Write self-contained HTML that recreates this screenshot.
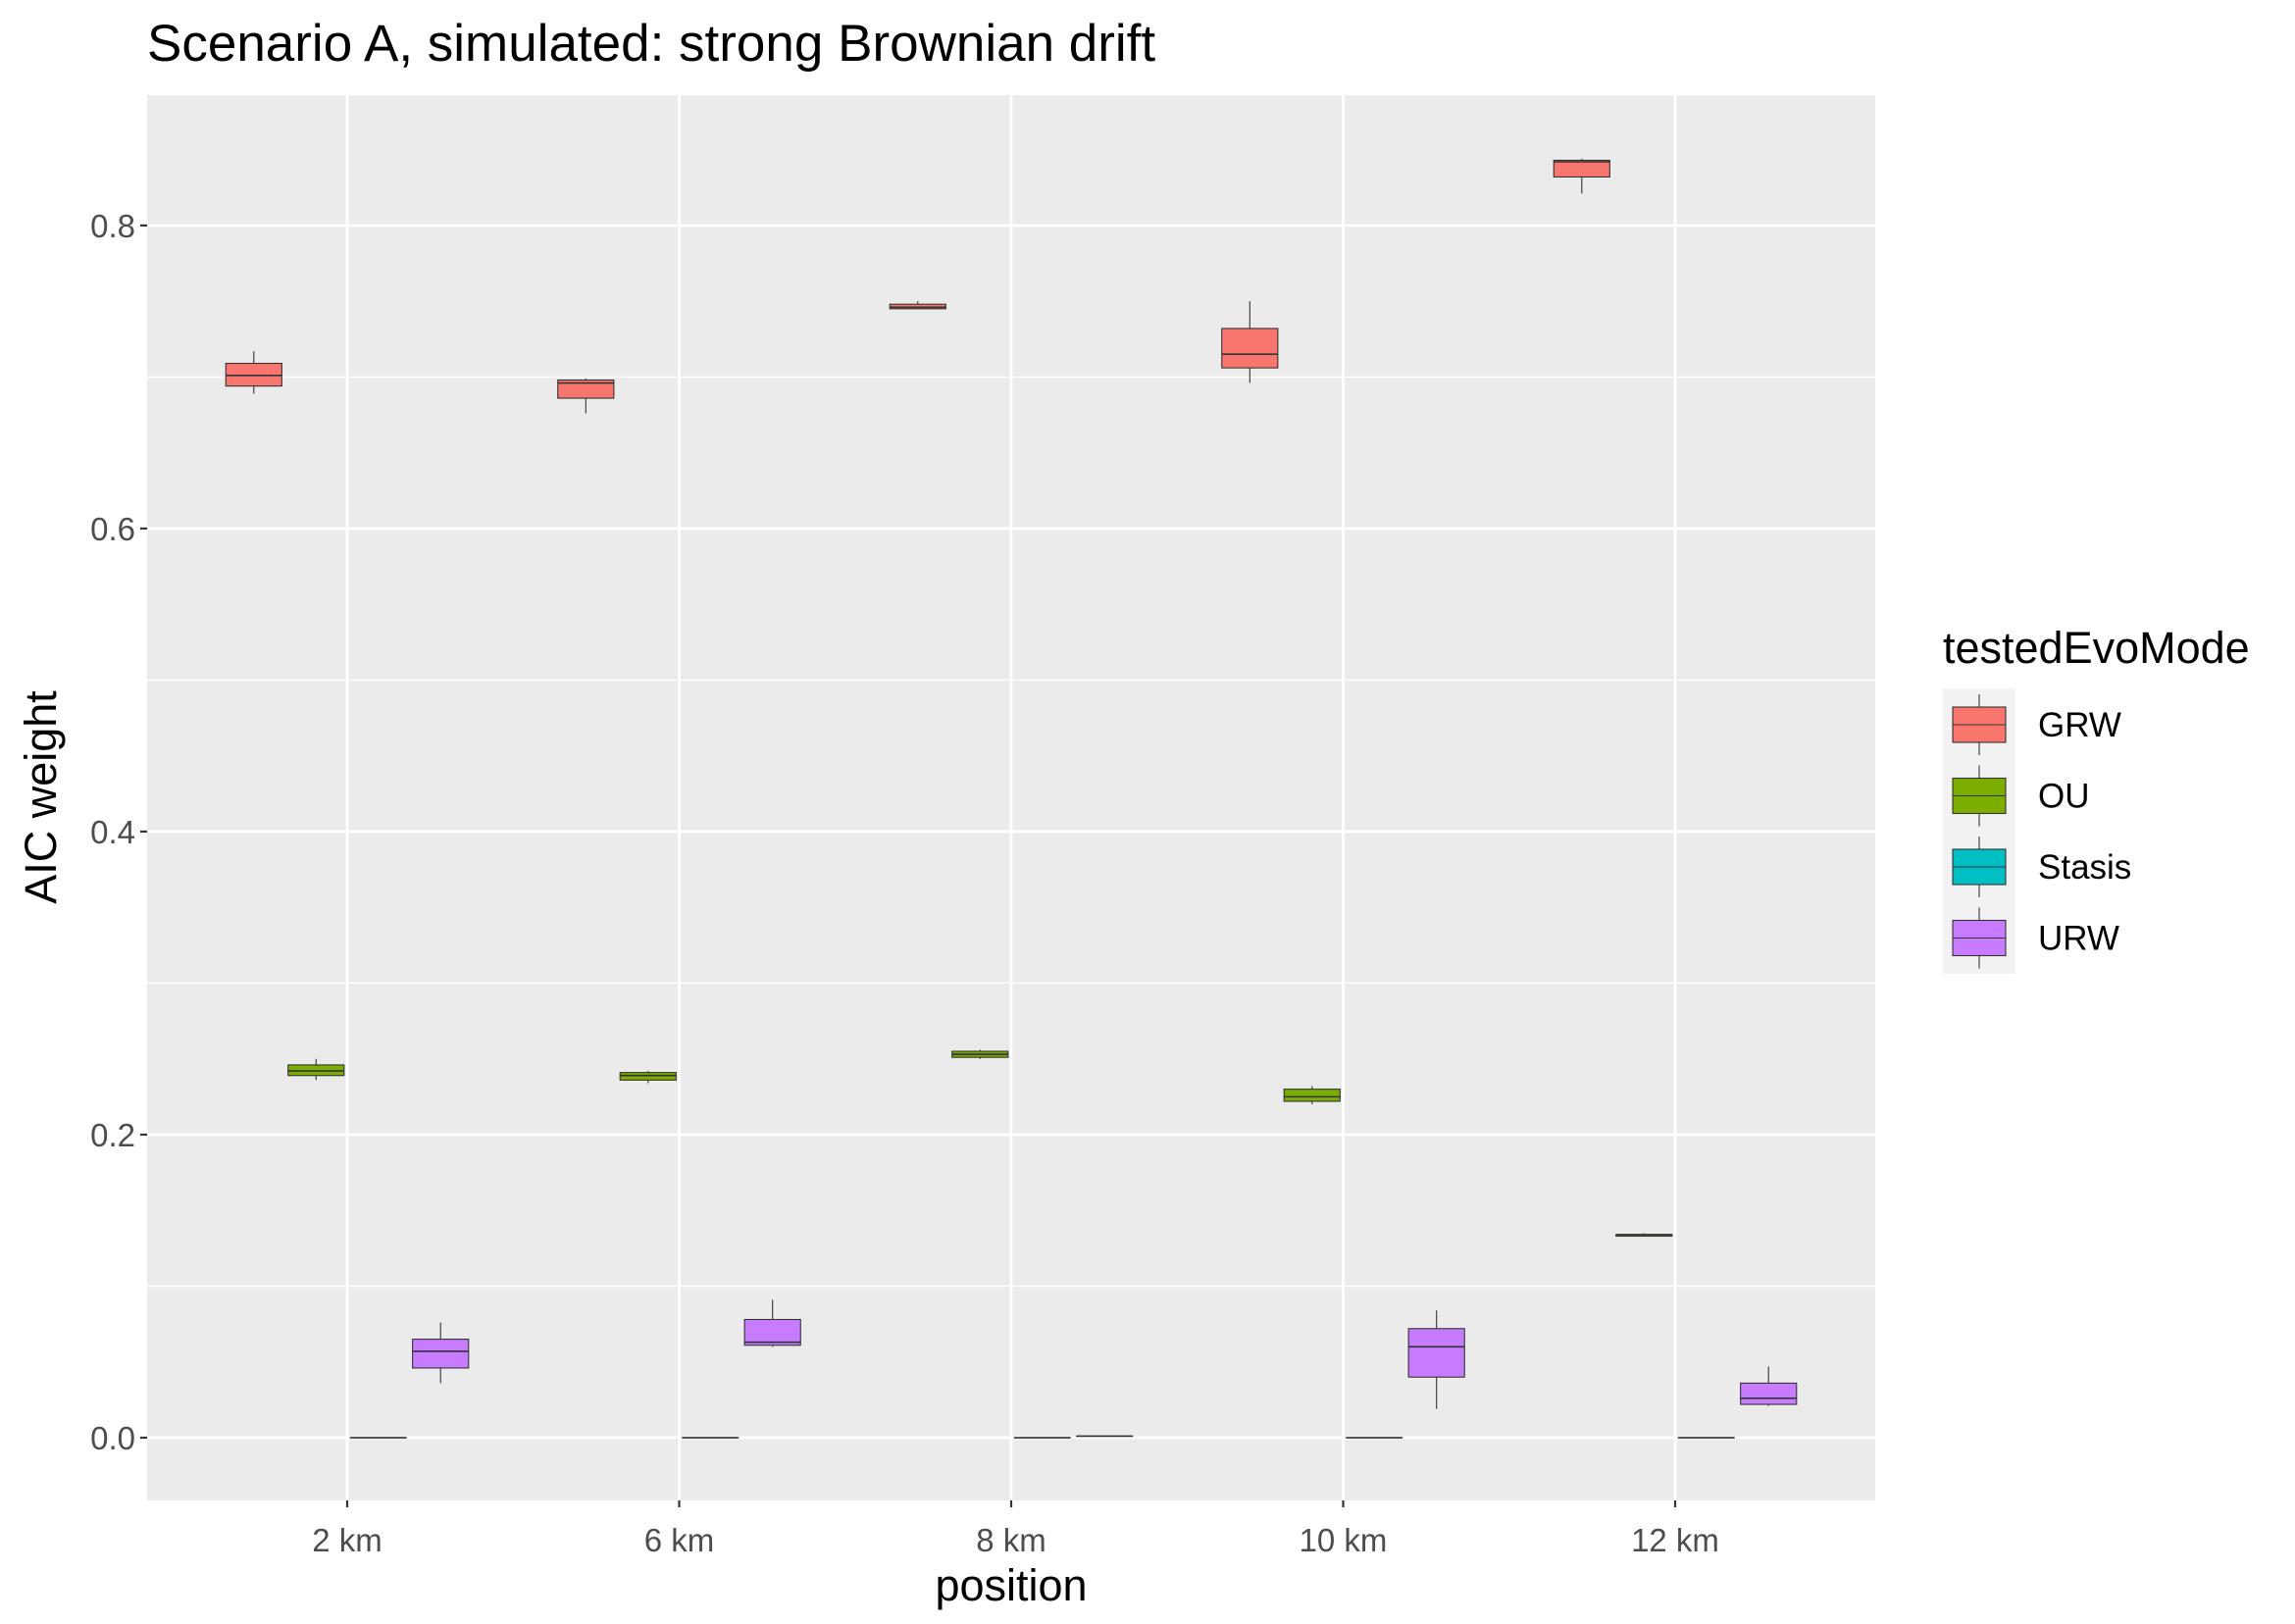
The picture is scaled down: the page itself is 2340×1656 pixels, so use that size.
<!DOCTYPE html>
<html><head><meta charset="utf-8"><style>
body{margin:0;background:#fff}
svg{display:block;font-family:"Liberation Sans",Arial,sans-serif}
</style></head><body>
<svg id="chart" width="2340" height="1656" viewBox="0 0 2340 1656" xmlns="http://www.w3.org/2000/svg">
<rect width="2340" height="1656" fill="#fff"/>
<text x="150" y="62" font-size="53" fill="#000">Scenario A, simulated: strong Brownian drift</text>
<rect x="150" y="97" width="1762" height="1433" fill="#EBEBEB"/>
<g id="grid"></g>
<g id="boxes"></g>
<g id="axes"></g>
<text x="1031" y="1632" font-size="45" text-anchor="middle" fill="#000">position</text>
<text transform="translate(57,813) rotate(-90)" font-size="45" text-anchor="middle" fill="#000">AIC weight</text>
<g id="legend">
<text x="1981" y="676" font-size="45" fill="#000">testedEvoMode</text>
<rect x="1981" y="702" width="74" height="291" fill="#F2F2F2"/>
</g>
</svg>
<script>
const categories = ["2 km","6 km","8 km","10 km","12 km"];
const modes = ["GRW","OU","Stasis","URW"];
const colors = ["#F8766D","#7CAE00","#00BFC4","#C77CFF"];
const yTicks = [0.0,0.2,0.4,0.6,0.8];
const yTickLabels = ["0.0","0.2","0.4","0.6","0.8"];
// [min, q1, median, q3, max] per category
const grwStats = [[0.689,0.694,0.701,0.709,0.717],[0.676,0.686,0.696,0.698,0.699],[0.745,0.745,0.746,0.748,0.750],[0.696,0.706,0.715,0.732,0.750],[0.821,0.832,0.842,0.843,0.844]];
const ouStats = [[0.236,0.239,0.242,0.246,0.250],[0.234,0.236,0.239,0.241,0.242],[0.250,0.251,0.253,0.255,0.256],[0.220,0.222,0.225,0.230,0.232],[0.133,0.133,0.134,0.134,0.135]];
const stasisStats = [[0,0,0,0,0],[0,0,0,0,0],[0,0,0,0,0],[0,0,0,0,0],[0,0,0,0,0]];
const urwStats = [[0.036,0.046,0.057,0.065,0.076],[0.060,0.061,0.063,0.078,0.091],[0.001,0.001,0.001,0.001,0.001],[0.019,0.040,0.060,0.072,0.084],[0.021,0.022,0.026,0.036,0.047]];
const allStats = [grwStats, ouStats, stasisStats, urwStats];

const NS="http://www.w3.org/2000/svg";
const X0=150, X1=1912, Y0=97, Y1=1530;
const yMin=-0.0414, yMax=0.886;
function yS(v){return Y1-(v-yMin)/(yMax-yMin)*(Y1-Y0);}
function xS(i){return 354+i*338.5;}
const dodge=338.5*0.75/modes.length, bw=dodge*0.9;
function mk(tag,attrs,parent){const e=document.createElementNS(NS,tag);for(const k in attrs)e.setAttribute(k,attrs[k]);parent.appendChild(e);return e;}
const grid=document.getElementById('grid'), boxes=document.getElementById('boxes'), axes=document.getElementById('axes');
for(let i=0;i<yTicks.length-1;i++){
  const v=(yTicks[i]+yTicks[i+1])/2;
  const l=mk('line',{x1:X0,x2:X1,y1:yS(v),y2:yS(v),stroke:'#fff','stroke-width':1.4},grid);
  
  
}
yTicks.forEach((v,i)=>{
  const l=mk('line',{x1:X0,x2:X1,y1:yS(v),y2:yS(v),stroke:'#fff','stroke-width':2.8},grid);
  
  
  const t=mk('line',{x1:X0-7,x2:X0,y1:yS(v),y2:yS(v),stroke:'#333','stroke-width':2.2},axes);
  
  
  const tx=mk('text',{x:X0-12,y:yS(v)+12,'font-size':33,'text-anchor':'end',fill:'#4D4D4D'},axes);
  tx.textContent=yTickLabels[i];
  
  
});
categories.forEach((c,i)=>{
  const l=mk('line',{x1:xS(i),x2:xS(i),y1:Y0,y2:Y1,stroke:'#fff','stroke-width':2.8},grid);
  
  
  const t=mk('line',{x1:xS(i),x2:xS(i),y1:Y1,y2:Y1+7,stroke:'#333','stroke-width':2.2},axes);
  
  
  const tx=mk('text',{x:xS(i),y:Y1+52,'font-size':33,'text-anchor':'middle',fill:'#4D4D4D'},axes);
  tx.textContent=c;
  
  
});
allStats.forEach((series,m)=>{
  series.forEach((s,i)=>{
    const cx=xS(i)+(m-1.5)*dodge;
    const g=mk('g',{},boxes);
    
    
    mk('line',{x1:cx,x2:cx,y1:yS(s[4]),y2:yS(s[3]),stroke:'#333','stroke-width':1.1},g);
    mk('line',{x1:cx,x2:cx,y1:yS(s[1]),y2:yS(s[0]),stroke:'#333','stroke-width':1.1},g);
    mk('rect',{x:cx-bw/2,y:yS(s[3]),width:bw,height:Math.max(yS(s[1])-yS(s[3]),0.01),fill:colors[m],stroke:'#333','stroke-width':1.1},g);
    mk('line',{x1:cx-bw/2,x2:cx+bw/2,y1:yS(s[2]),y2:yS(s[2]),stroke:'#333','stroke-width':1.6},g);
  });
});
const leg=document.getElementById('legend');
modes.forEach((m,i)=>{
  const cy=739+i*72.5;
  const g=mk('g',{},leg);
  
  
  mk('line',{x1:2018,x2:2018,y1:cy-31,y2:cy+31,stroke:'#333','stroke-width':1.1},g);
  mk('rect',{x:1991,y:cy-18,width:54,height:36,fill:colors[i],stroke:'#333','stroke-width':1.1},g);
  mk('line',{x1:1991,x2:2045,y1:cy,y2:cy,stroke:'#333','stroke-width':1.1},g);
  const t=mk('text',{x:2078,y:cy+12,'font-size':35,fill:'#000'},g);
  t.textContent=m;
});
</script>
</body></html>
